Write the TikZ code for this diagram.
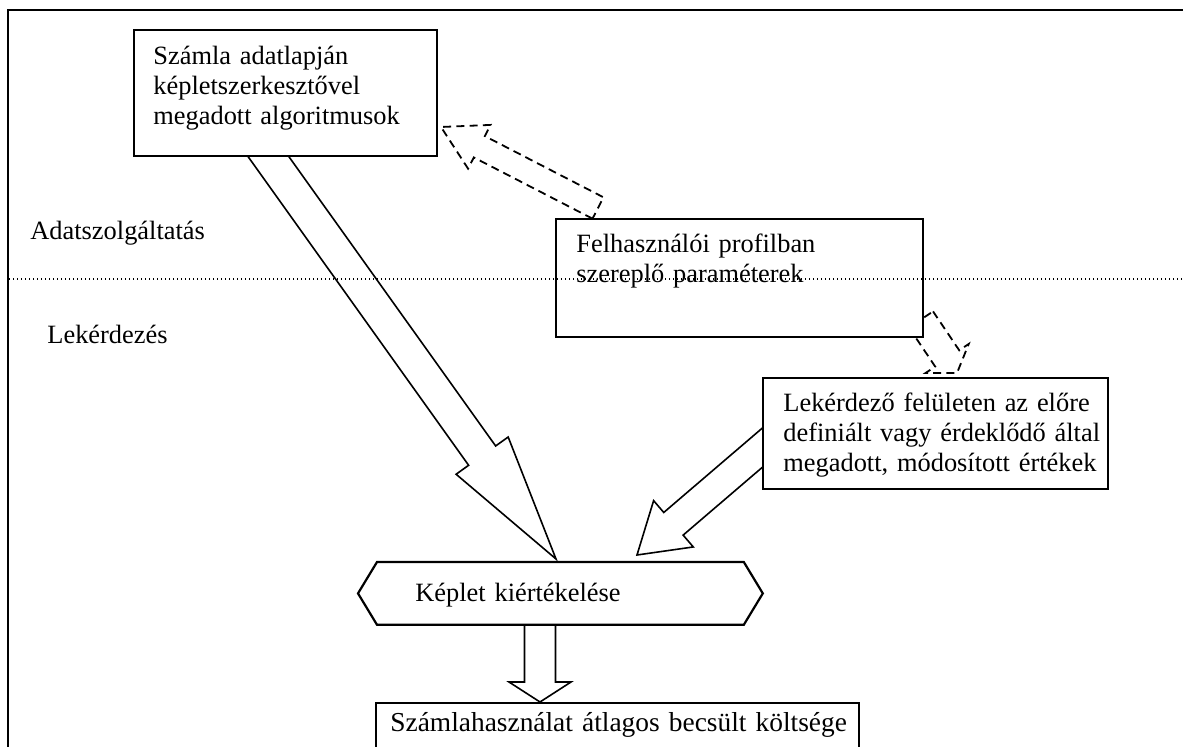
\documentclass[tikz,border=0pt]{standalone}
\usepackage{fontspec}
\setmainfont{Liberation Serif}
\usetikzlibrary{calc}
\newcommand\blockarrow[6]{%
  \draw[#1] let \p1=(#2), \p2=(#3),
    \n1={atan2(\y2-\y1,\x2-\x1)}, \n2={veclen(\x2-\x1,\y2-\y1)} in
    ($(\p1)+({\n1+90}:{#4*0.5pt})$)
    -- ($(\p1)+({\n1}:{\n2*1pt-#6*0.5pt})+({\n1+90}:{#4*0.5pt})$)
    -- ($(\p1)+({\n1}:{\n2*1pt-#6*0.5pt})+({\n1+90}:{#5*0.5pt})$)
    -- (\p2)
    -- ($(\p1)+({\n1}:{\n2*1pt-#6*0.5pt})+({\n1-90}:{#5*0.5pt})$)
    -- ($(\p1)+({\n1}:{\n2*1pt-#6*0.5pt})+({\n1-90}:{#4*0.5pt})$)
    -- ($(\p1)+({\n1-90}:{#4*0.5pt})$) -- cycle;}
\begin{document}
\begin{tikzpicture}[x=0.5pt,y=-0.5pt,
  font=\fontsize{13.2}{15}\selectfont,
  boxst/.style={draw, line width=1.1pt, fill=white, rectangle, inner sep=0pt, anchor=north west},
  txt/.style={anchor=base west, inner sep=0pt, text width=300pt, align=left},
  barrow/.style={draw, fill=white, line width=0.8pt, line join=miter},
  darrow/.style={draw, fill=white, line width=0.9pt, dash pattern=on 4pt off 2.6pt},
  sepline/.style={line width=0.7pt, dash pattern=on 0.7pt off 1.3pt},
  frame/.style={line width=1.4pt}]
\useasboundingbox (0,0) rectangle (1183,747);
% connector end points
\coordinate (a1s) at (228,100);
\coordinate (a1t) at (556,559);
\coordinate (a2s) at (790,424);
\coordinate (a2t) at (637,555);
\coordinate (a3s) at (540,600);
\coordinate (a3t) at (540,702);
\coordinate (d1s) at (598,208);
\coordinate (d1t) at (441,127);
\coordinate (d2s) at (921,319.5);
\coordinate (d2t) at (957,373);
% block arrows
\blockarrow{barrow}{a1s}{a1t}{16.6}{32}{127}
\blockarrow{barrow}{a2s}{a2t}{14.9}{30.5}{47.5}
\blockarrow{barrow}{a3s}{a3t}{15.5}{31}{20}
\blockarrow{darrow}{d1s}{d1t}{12}{24.6}{43}
\blockarrow{darrow}{d2s}{d2t}{14.5}{26}{17.5}
% boxes
\node[boxst, minimum width={303*0.5pt}, minimum height={126*0.5pt}] (box1) at (133,29) {};
\node[boxst, minimum width={367*0.5pt}, minimum height={118*0.5pt}] (box2) at (555,218) {};
\node[boxst, minimum width={345*0.5pt}, minimum height={111*0.5pt}] (box3) at (762,377) {};
\node[boxst, minimum width={483*0.5pt}, minimum height={120*0.5pt}] (box4) at (375,702) {};
\node[inner sep=0pt, minimum width={404*0.5pt}, minimum height={62*0.5pt}, anchor=north west] (hex) at (358,562) {};
\draw[line width=1.1pt, fill=white] (hex.west) -- ([xshift=9.5pt]hex.north west) -- ([xshift=-9.5pt]hex.north east) -- (hex.east) -- ([xshift=-9.5pt]hex.south east) -- ([xshift=9.5pt]hex.south west) -- cycle;
% texts
\node[txt] (t1) at (153,65) {Számla adatlapján\\képletszerkesztővel\\megadott algoritmusok};
\node[txt] (t2) at (576,253) {Felhasználói profilban\\szereplő paraméterek};
\node[txt] (t3) at (783,412) {Lekérdező felületen az előre\\definiált vagy érdeklődő által\\megadott, módosított értékek};
\node[txt] (t4) at (415,602) {Képlet kiértékelése};
\node[txt, font=\fontsize{13.7}{15}\selectfont] (t5) at (390,732) {Számlahasználat átlagos becsült költsége};
\node[txt] (lab1) at (30,240) {Adatszolgáltatás};
\node[txt] (lab2) at (47,344) {Lekérdezés};
% separator and frame
\draw[sepline] (9,279) -- (1183,279);
\draw[frame] (8,747) -- (8,10) -- (1183,10);
\end{tikzpicture}
\end{document}
